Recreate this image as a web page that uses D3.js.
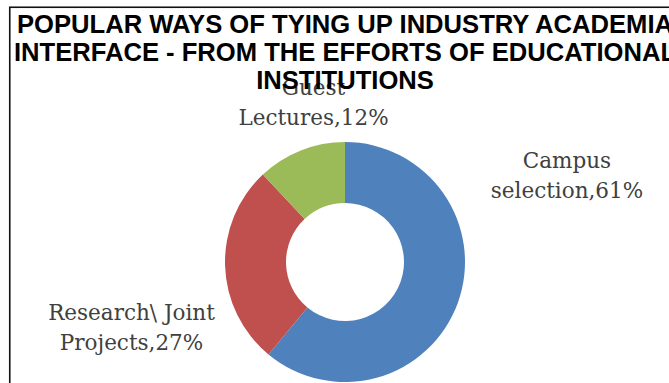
<!DOCTYPE html>
<html>
<head>
<meta charset="utf-8">
<script src="https://cdn.jsdelivr.net/npm/d3@7/dist/d3.min.js"></script>
<style>
  html, body { margin: 0; padding: 0; background: #fff; }
  svg { display: block; }
</style>
</head>
<body>
<svg id="chart" width="669" height="383"></svg>
<script>
// ---- data ----
const categories = ["Campus selection", "Research\\ Joint Projects", "Guest Lectures"];
const values = [61, 27, 12];
const labelLines = [
  ["Campus", "selection,61%"],
  ["Research\\ Joint", "Projects,27%"],
  ["Guest", "Lectures,12%"]
];
const colors = ["#4F81BD", "#C0504D", "#9BBB59"];
const titleLines = [
  "POPULAR WAYS OF TYING UP INDUSTRY ACADEMIA",
  "INTERFACE - FROM THE EFFORTS OF EDUCATIONAL",
  "INSTITUTIONS"
];

// ---- layout ----
const W = 669, H = 383;
const cx = 345, cy = 262;
const outerR = 120, innerR = 59;
const labelOffsets = [ [222, -94], [-213.5, 58], [-31.5, -167] ];
const labelLineGap = 30;

const svg = d3.select("#chart");

// border
svg.append("rect")
  .attr("x", 9.75).attr("y", 7.25)
  .attr("width", W + 20).attr("height", H + 20)
  .attr("fill", "none").attr("stroke", "#111").attr("stroke-width", 1.6);

// donut
const pie = d3.pie().sort(null).value(d => d).startAngle(0).endAngle(2 * Math.PI);
const arc = d3.arc().innerRadius(innerR).outerRadius(outerR);
const g = svg.append("g").attr("transform", `translate(${cx},${cy})`);
g.selectAll("path")
  .data(pie(values))
  .join("path")
  .attr("d", arc)
  .attr("fill", (d, i) => colors[i]);

// labels
const lg = svg.append("g");
labelLines.forEach((lines, i) => {
  const t = lg.append("text")
    .attr("text-anchor", "middle")
    .attr("font-family", "'DejaVu Serif', serif")
    .attr("font-size", 21.5)
    .attr("fill", "#404040");
  lines.forEach((ln, j) => {
    t.append("tspan")
      .attr("x", cx + labelOffsets[i][0])
      .attr("y", cy + labelOffsets[i][1] + j * labelLineGap)
      .text(ln);
  });
});

// title
svg.append("g").selectAll("text")
  .data(titleLines)
  .join("text")
  .attr("x", cx)
  .attr("y", (d, i) => 33 + i * 28)
  .attr("text-anchor", "middle")
  .attr("font-family", "'Liberation Sans', Arial, sans-serif")
  .attr("font-weight", "bold")
  .attr("font-size", 25.6)
  .attr("fill", "#000")
  .text(d => d);
</script>
</body>
</html>
